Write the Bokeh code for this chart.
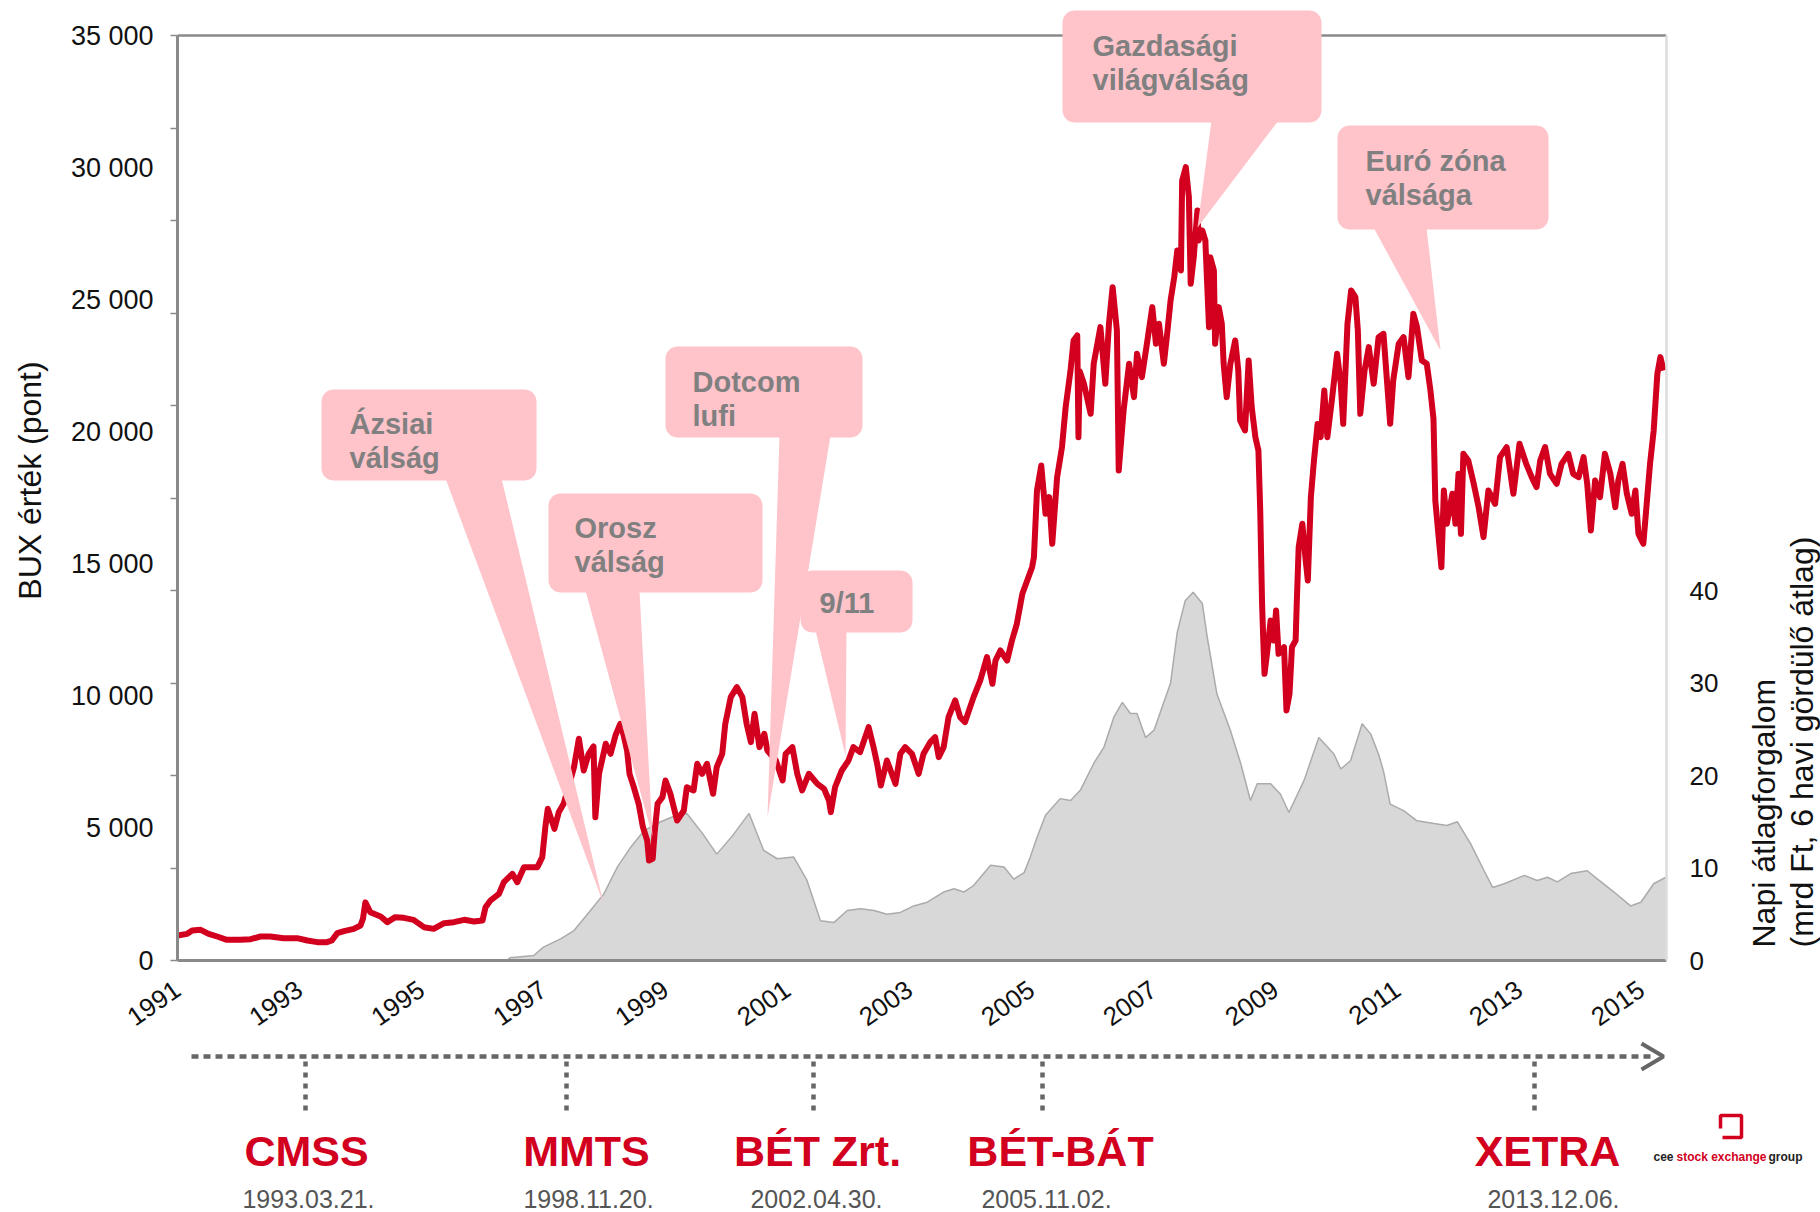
import math
from bokeh.plotting import figure
from bokeh.layouts import row
from bokeh.models import Range1d, LinearAxis, FixedTicker, Span
from bokeh.core.properties import value
from bokeh.embed import file_html
from bokeh.resources import INLINE

# ---------------- data ----------------
# BUX index value (points): (year, value)
BUX = [
    (1991.00, 946), (1991.16, 1009), (1991.24, 1135), (1991.38, 1160), (1991.51, 1009), (1991.65, 908), (1991.81, 782),
    (1992.03, 782), (1992.20, 807), (1992.36, 908), (1992.52, 908), (1992.74, 845), (1992.96, 845),
    (1993.13, 757), (1993.29, 694), (1993.45, 694), (1993.53, 757), (1993.62, 1034), (1993.73, 1110), (1993.89, 1198),
    (1994.00, 1324), (1994.04, 1577), (1994.08, 2200), (1994.16, 1829), (1994.33, 1665), (1994.44, 1451), (1994.57, 1640),
    (1994.71, 1615), (1994.87, 1539),
    (1995.04, 1261), (1995.20, 1198), (1995.37, 1413), (1995.53, 1451), (1995.70, 1539), (1995.86, 1476),
    (1996.00, 1514), (1996.05, 2018), (1996.13, 2270), (1996.27, 2523), (1996.35, 2964), (1996.49, 3279), (1996.57, 2964),
    (1996.68, 3532), (1996.90, 3532), (1996.98, 3910),
    (1997.03, 5045), (1997.07, 5740), (1997.18, 4982), (1997.25, 5613), (1997.33, 5929), (1997.41, 6560), (1997.50, 7317),
    (1997.58, 8389), (1997.66, 7190), (1997.74, 7821), (1997.82, 8099), (1997.85, 5424), (1997.91, 7064),
    (1998.02, 8200), (1998.10, 7821), (1998.18, 8515), (1998.26, 8957), (1998.31, 8554), (1998.37, 7947), (1998.41, 7064),
    (1998.48, 6560), (1998.56, 5929), (1998.63, 5045), (1998.70, 4541), (1998.73, 3784), (1998.79, 3846), (1998.82, 4793),
    (1998.87, 5929), (1998.95, 6181),
    (1999.00, 6811), (1999.08, 6307), (1999.19, 5298), (1999.30, 5676), (1999.35, 6559), (1999.46, 6433), (1999.52, 7442),
    (1999.60, 7064), (1999.68, 7442), (1999.78, 6307), (1999.84, 7316), (1999.93, 7821), (1999.98, 8956),
    (2000.07, 9965), (2000.17, 10343), (2000.26, 9965), (2000.33, 8956), (2000.40, 8262), (2000.46, 9334), (2000.54, 8073),
    (2000.62, 8577), (2000.67, 7947), (2000.81, 7568), (2000.92, 6811), (2000.97, 7821),
    (2001.08, 8073), (2001.16, 7064), (2001.24, 6433), (2001.35, 7064), (2001.49, 6685), (2001.60, 6496), (2001.68, 6054),
    (2001.71, 5613), (2001.78, 6559), (2001.89, 7190),
    (2002.00, 7568), (2002.08, 8073), (2002.19, 7884), (2002.33, 8829), (2002.41, 8073), (2002.47, 7442), (2002.53, 6622),
    (2002.63, 7568), (2002.71, 7064), (2002.77, 6685), (2002.85, 7821), (2002.93, 8073),
    (2003.04, 7821), (2003.15, 7064), (2003.23, 7821), (2003.34, 8262), (2003.42, 8451), (2003.48, 7694), (2003.56, 8073),
    (2003.64, 9208), (2003.75, 9839), (2003.83, 9208), (2003.91, 9019),
    (2004.05, 9965), (2004.16, 10595), (2004.27, 11478), (2004.36, 10469), (2004.41, 11352), (2004.49, 11730),
    (2004.60, 11352), (2004.68, 12109), (2004.76, 12740), (2004.85, 13874), (2004.93, 14379),
    (2005.01, 14883), (2005.04, 15262), (2005.09, 17785), (2005.16, 18731), (2005.23, 16902), (2005.29, 17533),
    (2005.34, 15767), (2005.42, 18289), (2005.50, 19425), (2005.56, 20938), (2005.64, 22326), (2005.69, 23461),
    (2005.75, 23650), (2005.77, 19803), (2005.79, 22300), (2005.86, 21821), (2005.97, 20686),
    (2006.02, 22578), (2006.13, 23965), (2006.21, 21821), (2006.27, 24091), (2006.33, 25478), (2006.40, 23839),
    (2006.43, 18541), (2006.51, 20812), (2006.60, 22578), (2006.68, 21317), (2006.73, 22956), (2006.81, 22074),
    (2006.90, 23461), (2006.98, 24722),
    (2007.04, 23335), (2007.09, 24091), (2007.17, 22578), (2007.23, 23839), (2007.28, 24974), (2007.34, 25857),
    (2007.39, 26866), (2007.45, 26110), (2007.47, 29515), (2007.53, 30019), (2007.58, 28885), (2007.61, 25605),
    (2007.66, 26614), (2007.72, 28380), (2007.74, 27245), (2007.80, 27623), (2007.85, 27245), (2007.91, 23965),
    (2007.93, 26614), (2007.99, 26110),
    (2008.01, 23335), (2008.07, 24722), (2008.12, 24091), (2008.15, 22578), (2008.20, 21317), (2008.26, 22578),
    (2008.34, 23461), (2008.39, 22326), (2008.42, 20434), (2008.50, 20055), (2008.56, 22704), (2008.61, 20938),
    (2008.67, 19803), (2008.72, 19298), (2008.75, 17000), (2008.78, 13500), (2008.80, 12109), (2008.82, 10848),
    (2008.86, 11604), (2008.92, 12866), (2008.97, 12109),
    (2009.01, 13244), (2009.05, 11604), (2009.14, 11856), (2009.18, 9460), (2009.23, 10091), (2009.27, 11856),
    (2009.33, 12109), (2009.35, 13622), (2009.38, 15640), (2009.44, 16524), (2009.49, 15262), (2009.53, 14379),
    (2009.58, 17533), (2009.63, 18900), (2009.69, 20300), (2009.74, 19803), (2009.80, 21569), (2009.85, 19803),
    (2009.93, 21317),
    (2010.01, 22956), (2010.07, 21821), (2010.11, 20307), (2010.18, 24091), (2010.24, 25352), (2010.31, 25100),
    (2010.35, 23839), (2010.39, 20686), (2010.46, 22326), (2010.53, 23208), (2010.61, 21821), (2010.69, 23587),
    (2010.77, 23713), (2010.88, 20307), (2010.93, 21947),
    (2011.02, 23335), (2011.10, 23587), (2011.18, 22074), (2011.26, 24470), (2011.32, 23965), (2011.40, 22704),
    (2011.48, 22578), (2011.54, 21569), (2011.59, 20500), (2011.62, 17406), (2011.65, 16650), (2011.72, 14883),
    (2011.76, 17785), (2011.81, 16524), (2011.90, 17659), (2011.95, 16524),
    (2012.00, 18415), (2012.04, 16145), (2012.08, 19172), (2012.16, 18920), (2012.25, 18037), (2012.33, 17154),
    (2012.41, 16019), (2012.49, 17785), (2012.60, 17280), (2012.68, 19046), (2012.79, 19425), (2012.90, 17659),
    (2013.00, 19551), (2013.11, 18794), (2013.20, 18289), (2013.28, 17911), (2013.34, 18920), (2013.42, 19425),
    (2013.50, 18415), (2013.61, 18037), (2013.69, 18794), (2013.80, 19172), (2013.88, 18415), (2013.97, 18289),
    (2014.05, 19046), (2014.11, 18037), (2014.17, 16271), (2014.24, 18163), (2014.32, 17533), (2014.40, 19172),
    (2014.49, 18415), (2014.57, 17154), (2014.62, 18163), (2014.69, 18794), (2014.76, 17659), (2014.84, 16902),
    (2014.90, 17785), (2014.95, 16145),
    (2015.03, 15767), (2015.09, 17406), (2015.14, 18794), (2015.20, 20055), (2015.26, 22200), (2015.31, 22830),
    (2015.36, 22326),
]

# Daily average turnover, 6-month rolling average (bn HUF): (year, value)
VOLUME = [
    (1991.00, 0.0), (1996.40, 0.0), (1996.45, 0.3), (1996.84, 0.54), (1997.00, 1.44), (1997.28, 2.34), (1997.50, 3.24),
    (1997.77, 5.4), (1997.99, 7.2), (1998.21, 10.1), (1998.43, 12.25), (1998.65, 14.05), (1998.92, 15.0),
    (1999.14, 15.6), (1999.35, 15.9), (1999.60, 13.8), (1999.84, 11.5), (2000.10, 13.5), (2000.37, 15.9),
    (2000.61, 11.9), (2000.83, 11.0), (2001.10, 11.2), (2001.32, 8.65), (2001.54, 4.3), (2001.76, 4.1),
    (2001.98, 5.4), (2002.20, 5.6), (2002.42, 5.4), (2002.63, 5.0), (2002.85, 5.2), (2003.07, 5.9), (2003.29, 6.3),
    (2003.56, 7.4), (2003.73, 7.75), (2003.89, 7.4), (2004.05, 8.1), (2004.33, 10.3), (2004.55, 10.1),
    (2004.71, 8.8), (2004.88, 9.5), (2004.98, 11.2), (2005.09, 13.3), (2005.23, 15.7), (2005.47, 17.5),
    (2005.64, 17.3), (2005.80, 18.4), (2006.02, 21.3), (2006.19, 23.1), (2006.35, 26.3), (2006.49, 27.9),
    (2006.62, 26.7), (2006.73, 26.7), (2006.87, 24.1), (2007.01, 24.9), (2007.12, 27.0), (2007.28, 30.0),
    (2007.39, 35.5), (2007.52, 38.9), (2007.65, 39.8), (2007.80, 38.6), (2007.88, 35.0), (2008.04, 28.8),
    (2008.26, 24.9), (2008.43, 21.3), (2008.59, 17.3), (2008.70, 19.1), (2008.92, 19.1), (2009.08, 18.0),
    (2009.22, 16.0), (2009.47, 19.5), (2009.71, 24.1), (2009.85, 23.1), (2009.96, 22.3), (2010.07, 20.7),
    (2010.23, 21.6), (2010.42, 25.6), (2010.56, 24.5), (2010.69, 22.3), (2010.77, 20.5), (2010.88, 16.9),
    (2011.10, 16.2), (2011.32, 15.1), (2011.60, 14.8), (2011.81, 14.6), (2011.98, 15.0), (2012.20, 12.6),
    (2012.42, 9.7), (2012.56, 7.9), (2012.75, 8.3), (2013.08, 9.2), (2013.29, 8.65), (2013.46, 9.0),
    (2013.62, 8.5), (2013.84, 9.4), (2014.11, 9.7), (2014.28, 8.8), (2014.55, 7.4), (2014.82, 5.9),
    (2014.99, 6.3), (2015.20, 8.3), (2015.40, 9.0),
]

X_TICKS = list(range(1991, 2016, 2))
Y_LABEL_TICKS = list(range(0, 35001, 5000))
Y_MINOR_TICKS = list(range(0, 35001, 3500))
VOL_TICKS = [0, 10, 20, 30, 40]

Y_TITLE = "BUX érték (pont)"
VOL_TITLE = ["Napi átlagforgalom", "(mrd Ft, 6 havi gördülő átlag)"]

CALLOUT_TEXT = [["Ázsiai", "válság"], ["Orosz", "válság"], ["Dotcom", "lufi"], ["9/11"],
                ["Gazdasági", "világválság"], ["Euró zóna", "válsága"]]

EVENT_NAMES = ["CMSS", "MMTS", "BÉT Zrt.", "BÉT-BÁT", "XETRA"]
EVENT_DATES = ["1993.03.21.", "1998.11.20.", "2002.04.30.", "2005.11.02.", "2013.12.06."]

# ---------------- layout (page pixels; the page has no margin) ----------------
PAGE_W, PAGE_H = 1820, 1212
FRAME_L, FRAME_R = 177, 1666
FRAME_T, FRAME_B = 0, 960
TOP_LINE_Y = 35
X_START, X_END = 1991.0, 2015.41
Y_MAX = 35000
VOL_MAX = 100
BORDER_B = 80
MAIN_H = FRAME_B + BORDER_B
MAIN_W = FRAME_R + 64
SIDE_W = PAGE_W - MAIN_W
TL_TOP, TL_BOT = MAIN_H, PAGE_H

px_per_year = (FRAME_R - FRAME_L) / (X_END - X_START)
px_per_unit = (FRAME_B - TOP_LINE_Y) / Y_MAX
y_top = (FRAME_B - FRAME_T) / px_per_unit
vol_top = y_top / Y_MAX * VOL_MAX


def dx(X):
    return X_START + (X - FRAME_L) / px_per_year


def dy(Y):
    return (FRAME_B - Y) / px_per_unit


FONT = "Liberation Sans"
RED = "#D2001E"
GRAY_AX = "#8A8A8A"
PINK = "#FFC3CA"
TXT = "#111111"

p = figure(width=MAIN_W, height=MAIN_H,
           x_range=Range1d(X_START, X_END), y_range=Range1d(0, y_top),
           output_backend="svg", toolbar_location=None,
           min_border_left=FRAME_L, min_border_right=MAIN_W - FRAME_R,
           min_border_top=FRAME_T, min_border_bottom=BORDER_B)
p.outline_line_color = None
p.grid.visible = False
p.background_fill_color = "white"
p.border_fill_color = "white"
p.extra_y_ranges = {"vol": Range1d(0, vol_top)}

# top frame line
p.add_layout(Span(location=Y_MAX, dimension="width", line_color=GRAY_AX, line_width=2.5, level="underlay"))

# volume area
vol_x = [a for a, b in VOLUME]
vol_y = [b for a, b in VOLUME]
p.varea(x=vol_x, y1=[0] * len(vol_x), y2=vol_y, y_range_name="vol", fill_color="#D8D8D8")
p.line(vol_x, vol_y, y_range_name="vol", line_color="#ABABAB", line_width=1.5)

# BUX line
bux_x = [a for a, b in BUX]
bux_y = [b for a, b in BUX]
p.line(bux_x, bux_y, line_color=RED, line_width=6, line_join="round")

# callouts: box x0, y0, x1, y1, tail base x0, x1, tip x, y, text x, first line centre (page px)
CALLOUT_GEOM = [
    (321, 389, 536, 480, 445, 501, 603, 903, 349, 423),
    (548, 493, 762, 592, 585, 639, 652, 836, 574, 527),
    (665, 346, 862, 437, 779, 830, 767, 817, 692, 381),
    (800, 570, 912, 632, 815, 846, 845, 755, 819, 602),
    (1062, 10, 1321, 122, 1211, 1278, 1197, 227, 1092, 45),
    (1337, 125, 1548, 229, 1373, 1426, 1440, 350, 1365, 160),
]
LINE_GAP = 34


def rrect(x0, y0, x1, y1, r=12, n=6):
    pts = []
    for cx, cy, a0 in [(x1 - r, y0 + r, -90), (x1 - r, y1 - r, 0), (x0 + r, y1 - r, 90), (x0 + r, y0 + r, 180)]:
        for k in range(n + 1):
            a = math.radians(a0 + 90 * k / n)
            pts.append((cx + r * math.cos(a), cy + r * math.sin(a)))
    return pts


xs, ys = [], []
tx, ty, tt = [], [], []
for geom, lines in zip(CALLOUT_GEOM, CALLOUT_TEXT):
    x0, y0, x1, y1, b0, b1, qx, qy, lx, ly = geom
    box = rrect(x0, y0, x1, y1)
    xs.append([dx(a) for a, b in box])
    ys.append([dy(b) for a, b in box])
    tail = [(b0, y1 - 2), (b1, y1 - 2), (qx, qy)]
    xs.append([dx(a) for a, b in tail])
    ys.append([dy(b) for a, b in tail])
    for i, s in enumerate(lines):
        tx.append(dx(lx))
        ty.append(dy(ly + i * LINE_GAP))
        tt.append(s)

p.patches(xs=xs, ys=ys, fill_color=PINK, line_color=None)
p.text(x=tx, y=ty, text=tt, text_font=value(FONT), text_font_style="bold", text_font_size="29px",
       text_color="#808080", text_align="left", text_baseline="middle")

# left axis
ya = p.yaxis[0]
ya.ticker = FixedTicker(ticks=Y_LABEL_TICKS, minor_ticks=Y_MINOR_TICKS)
ya.bounds = (0, Y_MAX)
ya.major_label_overrides = {t: f"{t:,}".replace(",", " ") for t in Y_LABEL_TICKS}
ya.axis_line_color = GRAY_AX
ya.axis_line_width = 3
ya.major_tick_out = 0
ya.major_tick_in = 0
ya.minor_tick_out = 7
ya.minor_tick_in = 0
ya.minor_tick_line_color = GRAY_AX
ya.minor_tick_line_width = 1.5
ya.major_label_text_font = FONT
ya.major_label_text_font_size = "27px"
ya.major_label_text_color = TXT
ya.major_label_standoff = 17
ya.axis_label = Y_TITLE
ya.axis_label_text_font = FONT
ya.axis_label_text_font_size = "32px"
ya.axis_label_text_font_style = "normal"
ya.axis_label_text_color = TXT
ya.axis_label_standoff = 20

# bottom axis
xa = p.xaxis[0]
xa.ticker = FixedTicker(ticks=X_TICKS, minor_ticks=[])
xa.axis_line_color = GRAY_AX
xa.axis_line_width = 3
xa.major_tick_out = 0
xa.major_tick_in = 0
xa.minor_tick_out = 0
xa.minor_tick_in = 0
xa.major_label_orientation = math.radians(35)
xa.major_label_text_font = FONT
xa.major_label_text_font_size = "26px"
xa.major_label_text_color = TXT
xa.major_label_standoff = 26

# right axis
ra = LinearAxis(y_range_name="vol", ticker=FixedTicker(ticks=VOL_TICKS, minor_ticks=[]), bounds=(0, VOL_MAX))
ra.axis_line_color = "#DDDDDD"
ra.axis_line_width = 2.5
ra.major_tick_out = 0
ra.major_tick_in = 0
ra.minor_tick_out = 0
ra.minor_tick_in = 0
ra.major_label_text_font = FONT
ra.major_label_text_font_size = "26px"
ra.major_label_text_color = TXT
ra.major_label_standoff = 23
p.add_layout(ra, "right")

# ---------------- side panel for the right axis title (page pixel coordinates) ----------------
ps = figure(width=SIDE_W, height=MAIN_H, x_range=Range1d(MAIN_W, PAGE_W),
            y_range=Range1d(0, FRAME_B - FRAME_T), output_backend="svg", toolbar_location=None,
            x_axis_location=None, y_axis_location=None,
            min_border_left=0, min_border_right=0, min_border_top=FRAME_T, min_border_bottom=BORDER_B)
ps.outline_line_color = None
ps.grid.visible = False
ps.background_fill_color = "white"
ps.border_fill_color = "white"
ps.text(x=[1763, 1801], y=[FRAME_B - 947] * 2, text=VOL_TITLE, angle=math.pi / 2,
        text_font=value(FONT), text_font_size="32px", text_color=TXT,
        text_align="left", text_baseline="middle")

# ---------------- timeline figure (page pixel coordinates) ----------------
pt = figure(width=PAGE_W, height=TL_BOT - TL_TOP, x_range=Range1d(0, PAGE_W),
            y_range=Range1d(0, TL_BOT - TL_TOP), output_backend="svg", toolbar_location=None,
            x_axis_location=None, y_axis_location=None, min_border=0)
pt.outline_line_color = None
pt.grid.visible = False
pt.background_fill_color = "white"
pt.border_fill_color = "white"


def ty_(Y):
    return TL_BOT - Y


TL_Y = 1056
TICK_X = [305, 566, 813, 1042, 1534]
NAME_X = [306, 586, 817, 1060, 1547]
DATE_X = [308, 588, 816, 1046, 1553]

pt.line([191, 1655], [ty_(TL_Y)] * 2, line_color="#666666", line_width=4.5, line_dash="7 5")
pt.line([1641, 1663, 1641], [ty_(1043), ty_(TL_Y), ty_(1069)], line_color="#666666", line_width=4)
pt.segment(x0=TICK_X, y0=[ty_(1061)] * 5, x1=TICK_X, y1=[ty_(1113)] * 5, line_color="#666666",
           line_width=4.5, line_dash="5 6")
pt.text(x=NAME_X, y=[ty_(1150)] * 5, text=EVENT_NAMES, text_font=value(FONT), text_font_style="bold",
        text_font_size="43px", text_color=RED, text_align="center", text_baseline="middle")
pt.text(x=DATE_X, y=[ty_(1198)] * 5, text=EVENT_DATES, text_font=value(FONT), text_font_size="25px",
        text_color="#555555", text_align="center", text_baseline="middle")

# logo
pt.line([1720, 1720, 1741, 1741, 1722], [ty_(1128), ty_(1115), ty_(1115), ty_(1137), ty_(1137)],
        line_color=RED, line_width=3.5)
pt.text(x=[1653, 1676, 1768], y=[ty_(1156)] * 3, text=["cee", "stock exchange", "group"],
        text_font=value(FONT), text_font_size="12px", text_font_style="bold",
        text_color=["#222222", RED, "#222222"], text_align="left", text_baseline="middle")

open("out.html", "w").write(file_html([row(p, ps), pt], INLINE))
